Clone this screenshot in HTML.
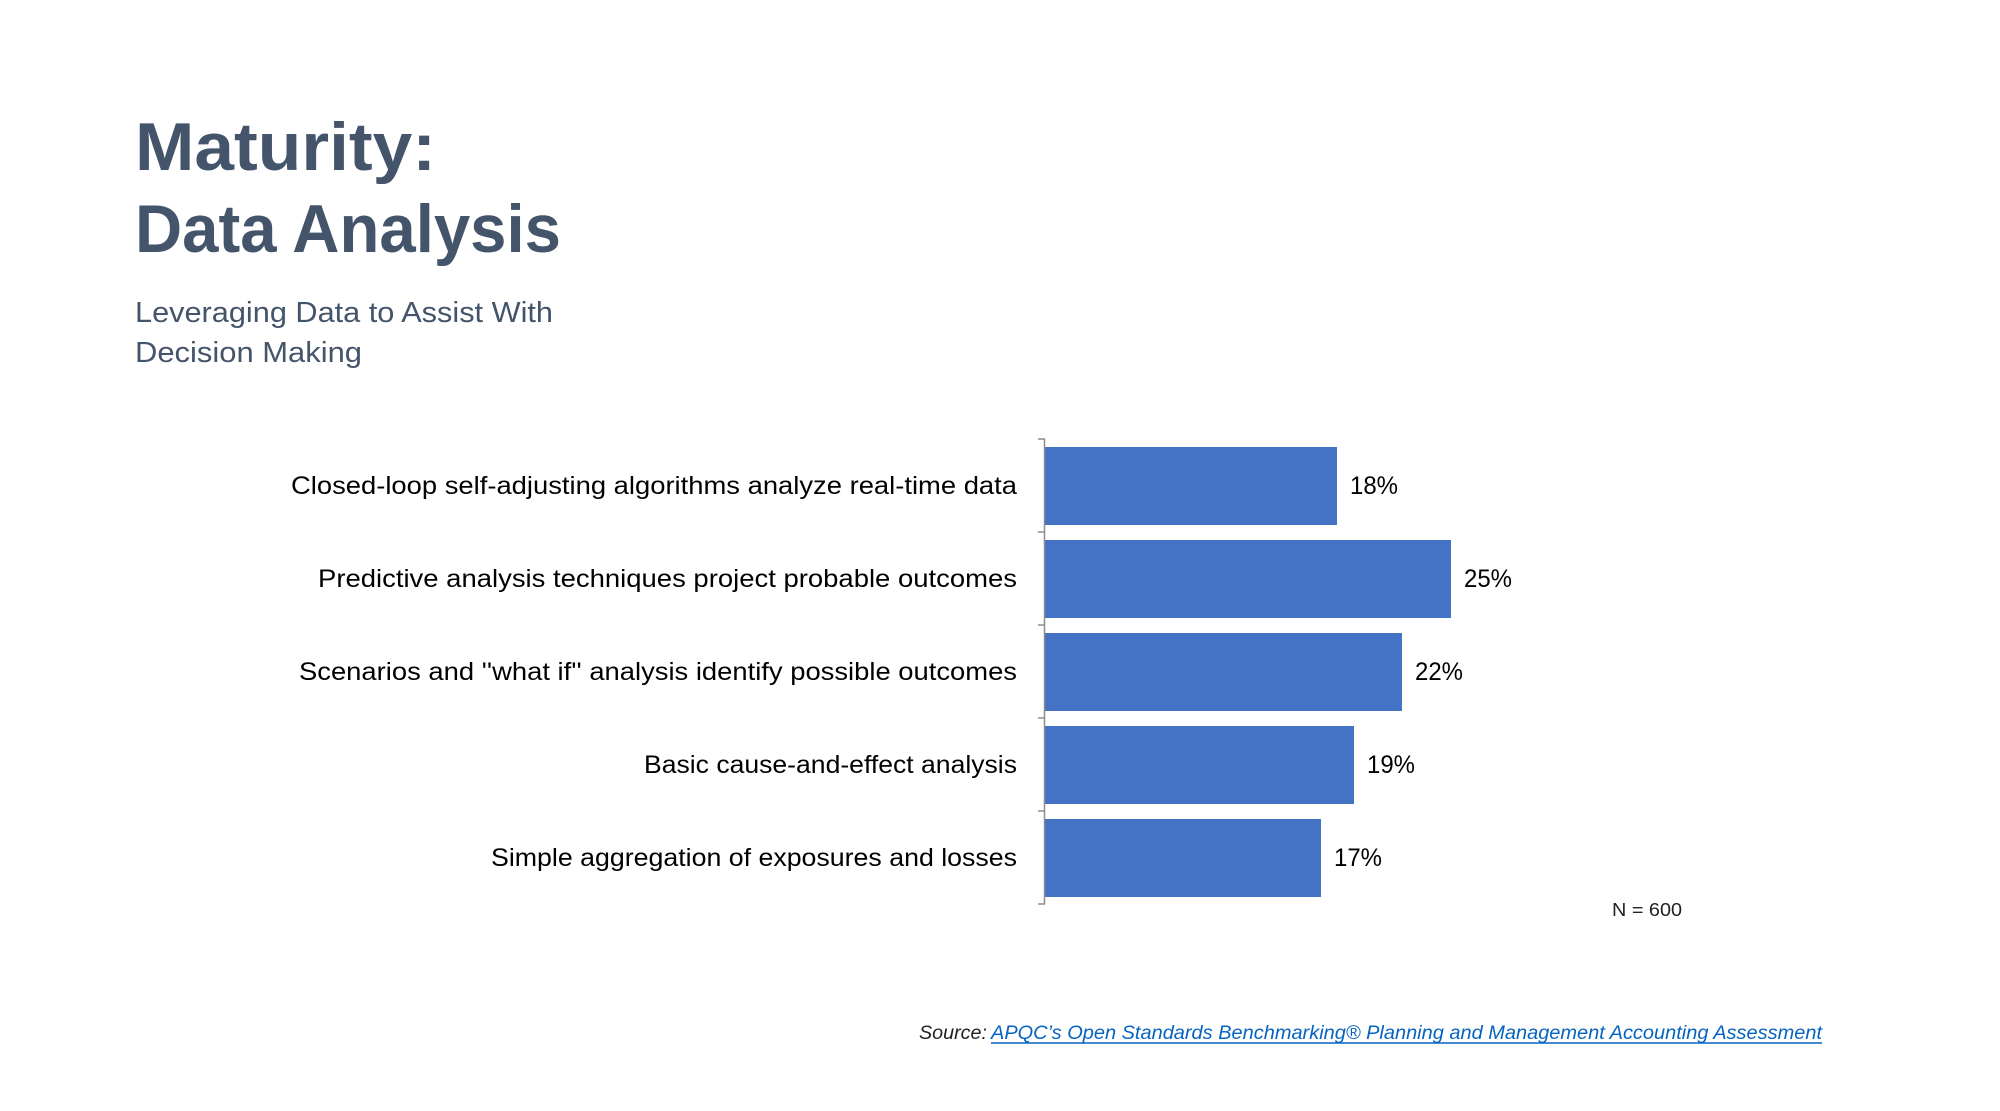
<!DOCTYPE html>
<html><head><meta charset="utf-8"><style>
html,body{margin:0;padding:0;background:#fff;}
svg{display:block;}
text{font-family:"Liberation Sans",sans-serif;}
</style></head><body>
<svg width="2000" height="1111" viewBox="0 0 2000 1111" xmlns="http://www.w3.org/2000/svg">
<rect width="2000" height="1111" fill="#fff"/>
<g fill="#44546a" font-weight="bold" font-size="68">
<text x="135" y="170" textLength="301" lengthAdjust="spacingAndGlyphs">Maturity:</text>
<text x="135" y="252" textLength="426" lengthAdjust="spacingAndGlyphs">Data Analysis</text>
</g>
<g fill="#44546a" font-size="29">
<text x="135" y="322" textLength="418" lengthAdjust="spacingAndGlyphs">Leveraging Data to Assist With</text>
<text x="135" y="362" textLength="227" lengthAdjust="spacingAndGlyphs">Decision Making</text>
</g>
<g fill="#4472c4">
<rect x="1045" y="447" width="292" height="78"/>
<rect x="1045" y="540" width="406" height="78"/>
<rect x="1045" y="633" width="357" height="78"/>
<rect x="1045" y="726" width="309" height="78"/>
<rect x="1045" y="819" width="276" height="78"/>
</g>
<g stroke="#8c8c8c" stroke-width="1.5" fill="none">
<line x1="1044.5" y1="439" x2="1044.5" y2="904"/>
<line x1="1038" y1="439" x2="1045" y2="439"/>
<line x1="1038" y1="532" x2="1045" y2="532"/>
<line x1="1038" y1="625" x2="1045" y2="625"/>
<line x1="1038" y1="718" x2="1045" y2="718"/>
<line x1="1038" y1="811" x2="1045" y2="811"/>
<line x1="1038" y1="904" x2="1045" y2="904"/>
</g>
<g fill="#000" font-size="25">
<text x="291" y="494" textLength="726" lengthAdjust="spacingAndGlyphs">Closed-loop self-adjusting algorithms analyze real-time data</text>
<text x="318" y="587" textLength="699" lengthAdjust="spacingAndGlyphs">Predictive analysis techniques project probable outcomes</text>
<text x="299" y="680" textLength="718" lengthAdjust="spacingAndGlyphs">Scenarios and ''what if'' analysis identify possible outcomes</text>
<text x="644" y="773" textLength="373" lengthAdjust="spacingAndGlyphs">Basic cause-and-effect analysis</text>
<text x="491" y="866" textLength="526" lengthAdjust="spacingAndGlyphs">Simple aggregation of exposures and losses</text>
</g>
<g fill="#000" font-size="25">
<text x="1350" y="494" textLength="48" lengthAdjust="spacingAndGlyphs">18%</text>
<text x="1464" y="587" textLength="48" lengthAdjust="spacingAndGlyphs">25%</text>
<text x="1415" y="680" textLength="48" lengthAdjust="spacingAndGlyphs">22%</text>
<text x="1367" y="773" textLength="48" lengthAdjust="spacingAndGlyphs">19%</text>
<text x="1334" y="866" textLength="48" lengthAdjust="spacingAndGlyphs">17%</text>
</g>
<text x="1612" y="916" font-size="18" fill="#222" textLength="70" lengthAdjust="spacingAndGlyphs">N = 600</text>
<text x="919" y="1039" font-size="19" font-style="italic" fill="#222" textLength="68" lengthAdjust="spacingAndGlyphs">Source:</text>
<text x="991" y="1039" font-size="19" font-style="italic" fill="#0563c1" textLength="831" lengthAdjust="spacingAndGlyphs">APQC’s Open Standards Benchmarking® Planning and Management Accounting Assessment</text>
<line x1="991" y1="1043" x2="1822" y2="1043" stroke="#0563c1" stroke-width="1.5"/>
</svg>
</body></html>
